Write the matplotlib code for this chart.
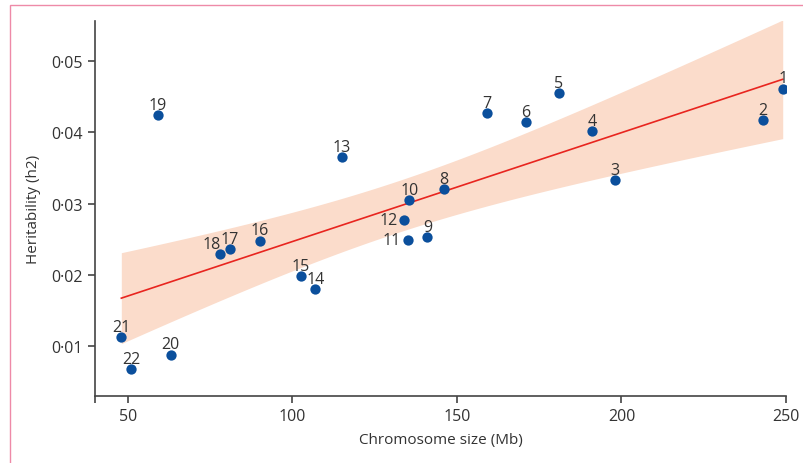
import numpy as np
import matplotlib
matplotlib.use("Agg")
import matplotlib.pyplot as plt
from matplotlib.patches import Rectangle
from matplotlib.ticker import FuncFormatter

# chromosome number, size (Mb) and heritability
chrom = ["1", "2", "3", "4", "5", "6", "7", "8", "9", "10", "11",
         "12", "13", "14", "15", "16", "17", "18", "19", "20", "21", "22"]
size_mb = [249, 243, 198, 191, 181, 171, 159, 146, 141, 135.5, 135,
           134, 115, 107, 102.5, 90, 81, 78, 59, 63, 48, 51]
herit = [0.0461, 0.0417, 0.0333, 0.0402, 0.0455, 0.0414, 0.0427, 0.0320,
         0.0253, 0.0305, 0.0249, 0.0277, 0.0365, 0.0180, 0.0198, 0.0248,
         0.0236, 0.0229, 0.0424, 0.0088, 0.0113, 0.0068]
left_labels = ["11", "12"]

plt.rcParams['font.family'] = ['Open Sans', 'DejaVu Sans']
txt = '#333333'

x = np.array(size_mb)
y = np.array(herit)

# OLS fit with 95% confidence band
n = len(x)
slope, icpt = np.polyfit(x, y, 1)
xs = np.linspace(x.min(), x.max(), 200)
fit = icpt + slope * xs
resid = y - (icpt + slope * x)
s = np.sqrt(np.sum(resid ** 2) / (n - 2))
sxx = np.sum((x - x.mean()) ** 2)
half = 2.086 * s * np.sqrt(1.0 / n + (xs - x.mean()) ** 2 / sxx)

fig = plt.figure(figsize=(8.04, 4.64), dpi=100)
ax = fig.add_axes([95 / 804, 1 - 397 / 464, (786 - 95) / 804, (397 - 22) / 464])

ax.fill_between(xs, fit - half, fit + half, color='#fbdccb', lw=0, zorder=1)
ax.plot(xs, fit, color='#e8251f', lw=1.2, zorder=2)
ax.scatter(x, y, s=55, color='#0b4f9c', zorder=3, linewidths=0)

for lab, xi, yi in zip(chrom, size_mb, herit):
    if lab in left_labels:
        ax.annotate(lab, (xi, yi), xytext=(-5, 0), textcoords='offset points',
                    ha='right', va='center', fontsize=11.5, color=txt)
    else:
        dx = -6 if lab == "18" else 0
        ax.annotate(lab, (xi, yi), xytext=(dx, 4.5), textcoords='offset points',
                    ha='center', va='baseline', fontsize=11.5, color=txt)

ax.set_xlim(40, 250)
ax.set_ylim(0.003, 0.0556)
ax.set_xticks([50, 100, 150, 200, 250])
ax.set_xticks([40], minor=True)
ax.set_yticks([0.01, 0.02, 0.03, 0.04, 0.05])
ax.yaxis.set_major_formatter(FuncFormatter(lambda v, p: ('%.2f' % v).replace('.', '\u00b7')))
ax.tick_params(axis='both', which='both', length=5, width=1.2, color='#444444',
               labelsize=11.5, labelcolor=txt)
ax.tick_params(axis='x', which='minor', length=5)

for sp in ['top', 'right']:
    ax.spines[sp].set_visible(False)
for sp in ['left', 'bottom']:
    ax.spines[sp].set_linewidth(1.2)
    ax.spines[sp].set_color('#444444')

ax.set_xlabel('Chromosome size (Mb)', fontsize=11, color=txt, labelpad=6)
ax.set_ylabel('Heritability (h2)', fontsize=11, color=txt, labelpad=8)

# pink frame around the panel
fig.patches.append(Rectangle((10 / 804, -0.1), 1.2, 1 - 6 / 464 + 0.1,
                             transform=fig.transFigure, fill=False,
                             edgecolor='#ee8aa8', lw=1.0))

fig.savefig('out.png', dpi=100)
